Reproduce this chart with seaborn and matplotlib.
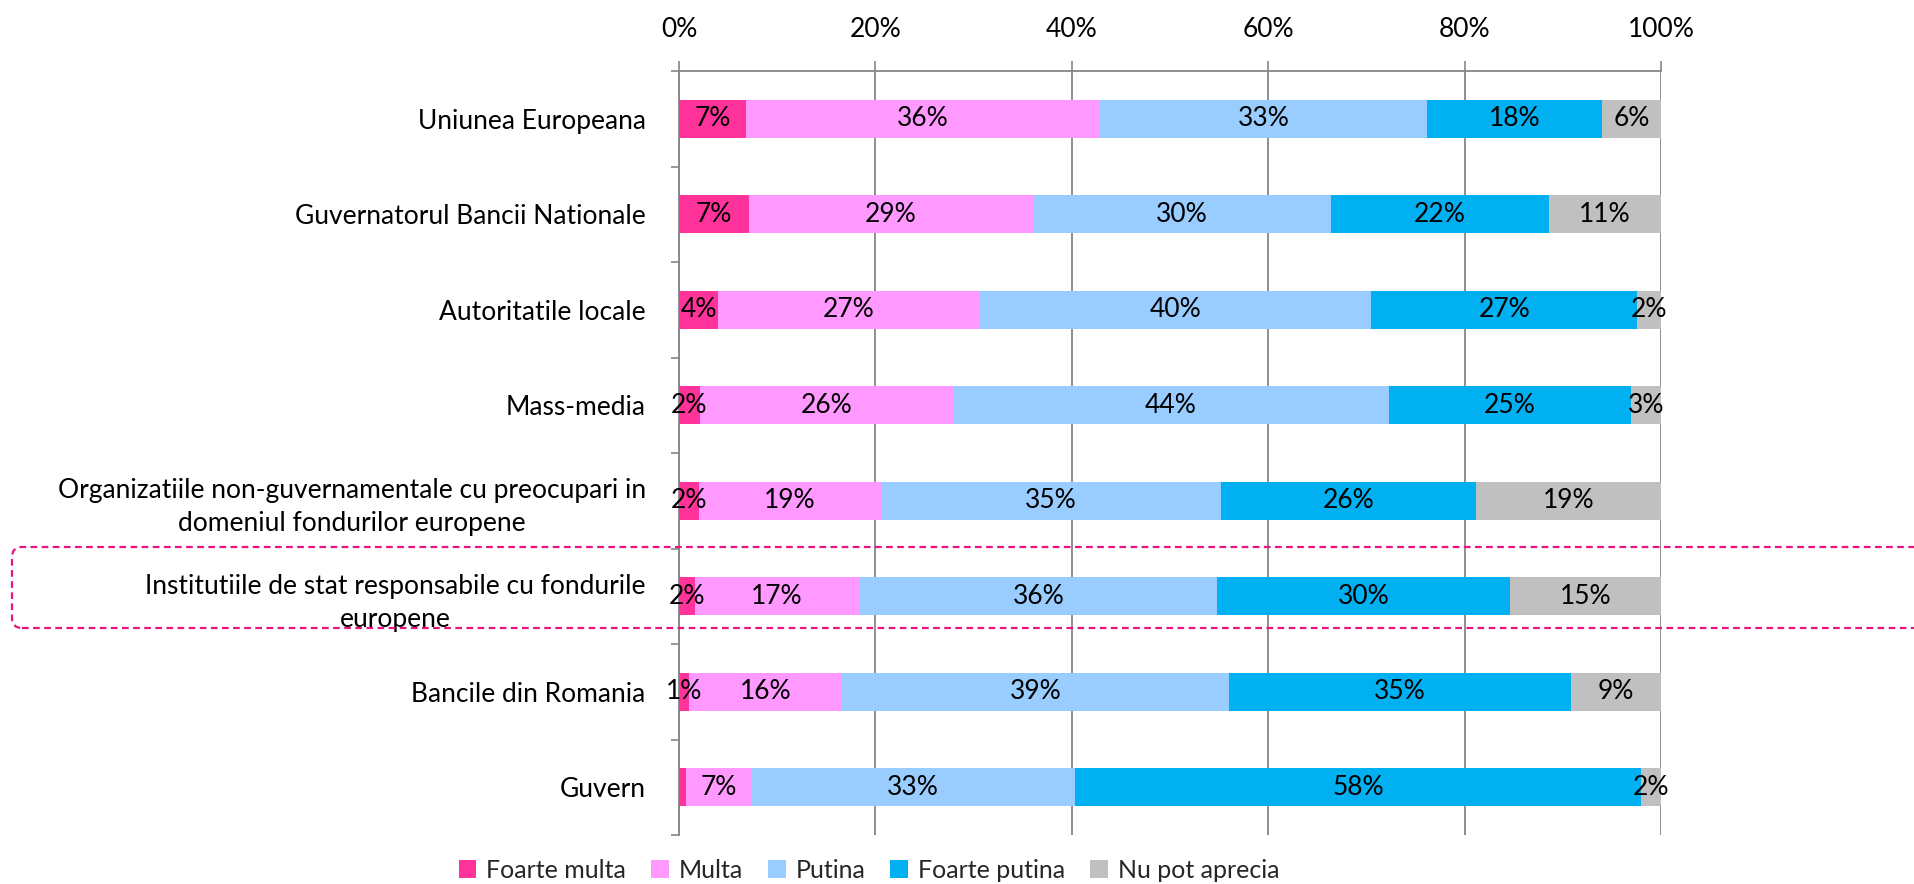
import matplotlib
matplotlib.use("Agg")
import matplotlib.pyplot as plt
import matplotlib.transforms as mtransforms
from matplotlib.patches import FancyBboxPatch, Patch
import seaborn as sns
import numpy as np
import pandas as pd

categories = [
    "Uniunea Europeana",
    "Guvernatorul Bancii Nationale",
    "Autoritatile locale",
    "Mass-media",
    "Organizatiile non-guvernamentale cu preocupari in\ndomeniul fondurilor europene",
    "Institutiile de stat responsabile cu fondurile\neuropene",
    "Bancile din Romania",
    "Guvern",
]
series_names = ["Foarte multa", "Multa", "Putina", "Foarte putina", "Nu pot aprecia"]
foarte_multa = [6.8, 7.1, 4.0, 2.1, 2.0, 1.6, 1.0, 0.7]
multa = [36.1, 28.9, 26.6, 25.8, 18.6, 16.8, 15.6, 6.7]
putina = [33.3, 30.4, 39.9, 44.4, 34.6, 36.4, 39.4, 32.9]
foarte_putina = [17.8, 22.2, 27.1, 24.6, 26.0, 29.8, 34.8, 57.7]
nu_pot = [6.0, 11.4, 2.4, 3.1, 18.8, 15.4, 9.2, 2.0]
colors = ["#FF3399", "#FF99FF", "#99CCFF", "#00B0F0", "#C0C0C0"]
xticks = [0, 20, 40, 60, 80, 100]
xtick_labels = ["0%", "20%", "40%", "60%", "80%", "100%"]

sns.set_theme(style="white")
plt.rcParams["font.family"] = ["Lato", "DejaVu Sans"]

values = np.array([foarte_multa, multa, putina, foarte_putina, nu_pot])
cum = np.cumsum(values, axis=0)

fig = plt.figure(figsize=(19.14, 8.84), dpi=100)
ax = fig.add_axes([679 / 1914, 1 - 835 / 884, 982 / 1914, 764 / 884])

# stacked via cumulative totals drawn from back to front
for i in range(len(series_names) - 1, -1, -1):
    df = pd.DataFrame({"cat": categories, "val": cum[i]})
    sns.barplot(data=df, x="val", y="cat", orient="h", color=colors[i],
                width=0.4, ax=ax, saturation=1, edgecolor="none", linewidth=0,
                zorder=3)

FS = 19
for i in range(len(series_names)):
    starts = cum[i] - values[i]
    for j, v in enumerate(values[i]):
        if v < 1:
            continue
        ax.text(starts[j] + v / 2, j, f"{round(v)}%", ha="center", va="center",
                fontsize=FS, color="black", zorder=5)

ax.set_xlim(0, 100)
ax.set_ylim(len(categories) - 0.5, -0.5)
ax.set_xlabel("")
ax.set_ylabel("")
ax.set_xticks(xticks)
ax.set_xticklabels(xtick_labels)
ax.xaxis.tick_top()
ax.tick_params(axis="x", which="major", direction="out", length=7, width=1.2,
               color="#868686", pad=14, labelsize=FS, labelcolor="black")
ax.grid(axis="x", color="#868686", linewidth=1.3, zorder=0)
ax.grid(axis="y", visible=False)
ax.set_axisbelow(True)

ax.set_yticks(np.arange(-0.5, len(categories), 1.0), minor=True)
ax.tick_params(axis="y", which="minor", direction="out", length=6, width=1.2,
               color="#868686", left=True)
ax.tick_params(axis="y", which="major", length=0, pad=24, labelsize=FS,
               labelcolor="black")
for t in ax.get_yticklabels():
    t.set_multialignment("center")
    t.set_linespacing(1.4)

for s in ["right", "bottom"]:
    ax.spines[s].set_visible(False)
for s in ["top", "left"]:
    ax.spines[s].set_color("#868686")
    ax.spines[s].set_linewidth(1.3)

handles = [Patch(facecolor=c, edgecolor="none") for c in colors]
fig.legend(handles, series_names, loc="center", bbox_to_anchor=(869 / 1914, 1 - 870 / 884),
           ncol=5, frameon=False, fontsize=18, handlelength=0.7, handleheight=0.7,
           handletextpad=0.4, columnspacing=1.0)

box = FancyBboxPatch((12, 884 - 628), 1960, 81,
                     boxstyle="round,pad=0,rounding_size=10",
                     transform=mtransforms.IdentityTransform(),
                     facecolor="none", edgecolor="#E8157F", linewidth=1.6,
                     linestyle=(0, (3, 2)), zorder=10, clip_on=False)
fig.patches.append(box)

fig.savefig("out.png", dpi=100)
